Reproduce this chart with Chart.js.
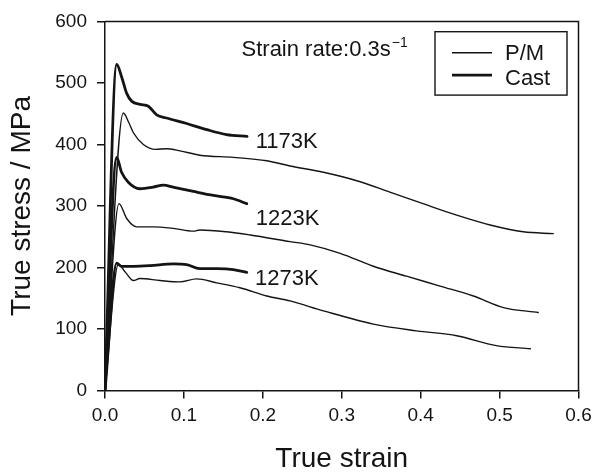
<!DOCTYPE html>
<html>
<head>
<meta charset="utf-8">
<script src="https://cdn.jsdelivr.net/npm/chart.js@4.4.1/dist/chart.umd.min.js"></script>
<style>
    html, body { margin: 0; padding: 0; background: #fff; }
    #wrap { width: 599px; height: 476px; }
</style>
</head>
<body>
<div id="wrap"><canvas id="stressChart" width="599" height="476"></canvas></div>
<script>
// 데이터
const xTicks = [0.0, 0.1, 0.2, 0.3, 0.4, 0.5, 0.6];
const yTicks = [0, 100, 200, 300, 400, 500, 600];

const pm1173Strain = [0, 0.0232, 0.030, 0.036, 0.0486, 0.064, 0.078, 0.095, 0.120, 0.1626, 0.205, 0.2345, 0.2767, 0.319, 0.361, 0.403, 0.4457, 0.488, 0.530, 0.568];
const pm1173Stress = [0, 451, 436, 419, 400, 392, 393, 389.6, 382.5, 379, 373.5, 365, 354.7, 341, 322.5, 303.7, 285, 269, 258, 255];

const cast1173Strain = [0, 0.0148, 0.021, 0.0275, 0.034, 0.0444, 0.055, 0.0655, 0.078, 0.1035, 0.129, 0.154, 0.180];
const cast1173Stress = [0, 530, 510, 483, 470, 465, 462, 448, 443, 434, 424, 416, 413];

const pm1223Strain = [0, 0.0177, 0.0275, 0.040, 0.061, 0.0866, 0.112, 0.120, 0.154, 0.184, 0.2345, 0.26, 0.298, 0.340, 0.382, 0.4246, 0.4668, 0.505, 0.549];
const pm1223Stress = [0, 303.7, 279.6, 266, 266, 263.5, 259, 261, 258, 252.8, 242, 236.8, 223, 202, 185.8, 169.7, 153.6, 134.8, 126.8];

const cast1223Strain = [0, 0.0148, 0.021, 0.0295, 0.044, 0.061, 0.074, 0.0866, 0.112, 0.1375, 0.1626, 0.1796];
const cast1223Stress = [0, 378.8, 354.7, 338.6, 328, 330.5, 334, 330.5, 323.6, 317, 311.7, 303.7];

const pm1273Strain = [0, 0.017, 0.026, 0.036, 0.044, 0.0697, 0.095, 0.116, 0.1416, 0.171, 0.205, 0.2345, 0.2767, 0.340, 0.395, 0.4457, 0.496, 0.539];
const pm1273Stress = [0, 205, 192, 178.8, 182, 178.8, 176.6, 181.5, 175, 167, 153.6, 145.6, 129.5, 108, 97, 89, 73, 67.8];

const cast1273Strain = [0, 0.0148, 0.021, 0.036, 0.057, 0.0866, 0.1035, 0.120, 0.1416, 0.1626, 0.1796];
const cast1273Stress = [0, 207, 201.9, 201.9, 203, 206, 204.6, 198, 198, 196.5, 192];

// 온도 라벨 (strain, stress 위치)
const tempLabels = ['1173K', '1223K', '1273K'];
const tempLabelStrain = [0.191, 0.191, 0.190];
const tempLabelStress = [404, 279, 182];

const legendLabels = ['P/M', 'Cast'];
const noteText = 'Strain rate:0.3s';
const noteSup = '\u22121';

const INK = '#141414';
const FONT = "'Liberation Sans', Arial, sans-serif";

function toPoints(xs, ys) {
    return xs.map((x, i) => ({ x: x, y: ys[i] }));
}

function curve(label, xs, ys, width) {
    return {
        label: label,
        data: toPoints(xs, ys),
        borderColor: INK,
        borderWidth: width,
        pointRadius: 0,
        fill: false,
        cubicInterpolationMode: 'monotone',
        borderCapStyle: 'round',
        borderJoinStyle: 'round'
    };
}

// 프레임, 범례, 주석 그리기
const decorPlugin = {
    id: 'decor',
    afterDraw(chart) {
        const ctx = chart.ctx;
        const area = chart.chartArea;
        const xs = chart.scales.x;
        const ys = chart.scales.y;
        ctx.save();

        // top/right frame
        ctx.strokeStyle = INK;
        ctx.lineWidth = 1.5;
        ctx.beginPath();
        ctx.moveTo(area.left, area.top);
        ctx.lineTo(area.right, area.top);
        ctx.lineTo(area.right, area.bottom);
        ctx.stroke();

        // legend box
        const bx = area.right - 143.5;
        const by = area.top + 10.3;
        ctx.lineWidth = 1.4;
        ctx.strokeRect(bx, by, 132, 63.4);
        ctx.lineWidth = 1.4;
        ctx.beginPath();
        ctx.moveTo(bx + 17, by + 21);
        ctx.lineTo(bx + 57, by + 21);
        ctx.stroke();
        ctx.lineWidth = 2.8;
        ctx.beginPath();
        ctx.moveTo(bx + 17, by + 43.5);
        ctx.lineTo(bx + 57, by + 43.5);
        ctx.stroke();

        ctx.fillStyle = INK;
        ctx.font = '22px ' + FONT;
        ctx.textBaseline = 'alphabetic';
        ctx.textAlign = 'left';
        ctx.fillText(legendLabels[0], bx + 70, by + 28);
        ctx.fillText(legendLabels[1], bx + 70, by + 53);

        // strain rate note
        const nx = xs.getPixelForValue(0.173);
        const ny = ys.getPixelForValue(543);
        ctx.font = '22px ' + FONT;
        ctx.fillText(noteText, nx, ny);
        const w = ctx.measureText(noteText).width;
        ctx.font = '14px ' + FONT;
        ctx.fillText(noteSup, nx + w + 1, ny - 9);

        // temperature labels
        ctx.font = '22px ' + FONT;
        ctx.textBaseline = 'middle';
        tempLabels.forEach((t, i) => {
            ctx.fillText(t, xs.getPixelForValue(tempLabelStrain[i]), ys.getPixelForValue(tempLabelStress[i]));
        });
        ctx.restore();
    }
};

function renderChart() {
    const ctx = document.getElementById('stressChart');

    new Chart(ctx, {
        type: 'line',
        data: {
            datasets: [
                curve('P/M 1173K', pm1173Strain, pm1173Stress, 1.4),
                curve('Cast 1173K', cast1173Strain, cast1173Stress, 2.8),
                curve('P/M 1223K', pm1223Strain, pm1223Stress, 1.4),
                curve('Cast 1223K', cast1223Strain, cast1223Stress, 2.8),
                curve('P/M 1273K', pm1273Strain, pm1273Stress, 1.4),
                curve('Cast 1273K', cast1273Strain, cast1273Stress, 2.8)
            ]
        },
        options: {
            responsive: false,
            animation: false,
            layout: {
                padding: { top: 17, right: 20.5, left: 0, bottom: 0 }
            },
            plugins: {
                legend: { display: false },
                tooltip: { enabled: false }
            },
            scales: {
                x: {
                    type: 'linear',
                    min: 0,
                    max: 0.6,
                    afterFit: s => { s.height = 85.5; },
                    afterBuildTicks: s => { s.ticks = xTicks.map(v => ({ value: v })); },
                    ticks: {
                        color: INK,
                        padding: 6,
                        maxRotation: 0,
                        font: { family: FONT, size: 19 },
                        callback: v => v.toFixed(1)
                    },
                    grid: {
                        drawOnChartArea: false,
                        tickLength: 8,
                        color: INK,
                        lineWidth: 1.5
                    },
                    border: { color: INK, width: 1.5 },
                    title: {
                        display: true,
                        text: 'True strain',
                        color: INK,
                        font: { family: FONT, size: 28 },
                        padding: { top: 0, bottom: 0 }
                    }
                },
                y: {
                    min: 0,
                    max: 600,
                    afterFit: s => { s.width = 105; },
                    afterBuildTicks: s => { s.ticks = yTicks.map(v => ({ value: v })); },
                    ticks: {
                        color: INK,
                        padding: 10,
                        font: { family: FONT, size: 19 }
                    },
                    grid: {
                        drawOnChartArea: false,
                        tickLength: 8,
                        color: INK,
                        lineWidth: 1.5
                    },
                    border: { color: INK, width: 1.5 },
                    title: {
                        display: true,
                        text: 'True stress / MPa',
                        color: INK,
                        font: { family: FONT, size: 28 },
                        padding: { top: 5, bottom: 0 }
                    }
                }
            }
        },
        plugins: [decorPlugin]
    });
}

window.onload = renderChart;
</script>
</body>
</html>
